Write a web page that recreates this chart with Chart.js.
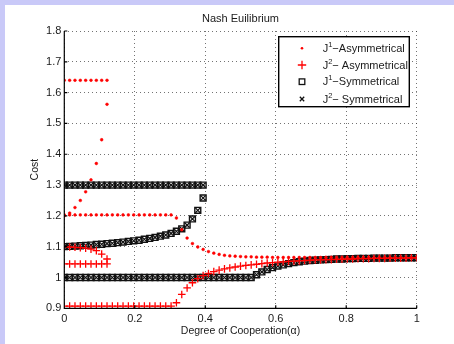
<!DOCTYPE html>
<html>
<head>
<meta charset="utf-8">
<script src="https://cdn.jsdelivr.net/npm/chart.js@4/dist/chart.umd.min.js"></script>
<style>
  html, body { margin: 0; padding: 0; background: #c9c9f8; width: 454px; height: 344px; overflow: hidden; }
  #wrap { position: absolute; left: 5px; top: 5px; width: 449px; height: 339px; background: #fff; }
</style>
</head>
<body>
<div id="wrap"><canvas id="nashChart" width="449" height="339"></canvas></div>
<script>
// grado de cooperacion: malla uniforme de 67 puntos entre 0 y 1
const alpha = Array.from({ length: 67 }, (_, i) => i / 66);

// J1 asimetrico (puntos rojos), tres ramas
const j1AsymHigh = [1.64, 1.64, 1.64, 1.64, 1.64, 1.64, 1.64, 1.64, 1.64];
const j1AsymRise = [1.200, 1.209, 1.227, 1.250, 1.278, 1.317, 1.370, 1.447, 1.562];
const j1AsymMain = [
  1.203, 1.203, 1.203, 1.203, 1.203, 1.203, 1.203, 1.203, 1.203, 1.203,
  1.203, 1.203, 1.203, 1.203, 1.203, 1.203, 1.203, 1.203, 1.203, 1.203,
  1.203, 1.193, 1.155, 1.128, 1.110, 1.099, 1.091, 1.084, 1.079, 1.075,
  1.072, 1.070, 1.069, 1.068, 1.067, 1.067, 1.066, 1.066, 1.066, 1.065,
  1.065, 1.065, 1.065, 1.065, 1.065, 1.065, 1.065, 1.065, 1.065, 1.065,
  1.065, 1.064, 1.064, 1.064, 1.064, 1.064, 1.064, 1.064, 1.064, 1.064,
  1.064, 1.064, 1.064, 1.064, 1.064, 1.064, 1.064
];

// J2 asimetrico (cruces rojas)
const j2AsymLow = [1.044, 1.044, 1.044, 1.044, 1.044, 1.044, 1.044, 1.044, 1.044];
const j2AsymFall = [1.100, 1.099, 1.098, 1.097, 1.095, 1.092, 1.087, 1.076, 1.060];
const j2AsymMain = [
  0.907, 0.907, 0.907, 0.907, 0.907, 0.907, 0.907, 0.907, 0.907, 0.907,
  0.907, 0.907, 0.907, 0.907, 0.907, 0.907, 0.907, 0.907, 0.907, 0.907,
  0.907, 0.918, 0.945, 0.966, 0.983, 0.996, 1.006, 1.013, 1.019, 1.024,
  1.028, 1.031, 1.034, 1.037, 1.039, 1.041, 1.043, 1.045, 1.047, 1.048,
  1.050, 1.051, 1.052, 1.053, 1.054, 1.055, 1.056, 1.057, 1.057, 1.058,
  1.058, 1.059, 1.059, 1.060, 1.060, 1.061, 1.061, 1.061, 1.062, 1.062,
  1.062, 1.063, 1.063, 1.063, 1.063, 1.064, 1.064
];

// caso simetrico: J1 y J2 coinciden (cuadrados y aspas negras)
const symHigh = [
  1.30, 1.30, 1.30, 1.30, 1.30, 1.30, 1.30, 1.30, 1.30, 1.30,
  1.30, 1.30, 1.30, 1.30, 1.30, 1.30, 1.30, 1.30, 1.30, 1.30,
  1.30, 1.30, 1.30, 1.30, 1.30, 1.30, 1.30
];
const symMid = [
  1.100, 1.101, 1.102, 1.103, 1.104, 1.105, 1.107, 1.108, 1.110, 1.111,
  1.113, 1.115, 1.117, 1.119, 1.121, 1.124, 1.127, 1.130, 1.134, 1.138,
  1.143, 1.150, 1.158, 1.170, 1.190, 1.218, 1.258
];
const symLow = [
  1.000, 1.000, 1.000, 1.000, 1.000, 1.000, 1.000, 1.000, 1.000, 1.000,
  1.000, 1.000, 1.000, 1.000, 1.000, 1.000, 1.000, 1.000, 1.000, 1.000,
  1.000, 1.000, 1.000, 1.000, 1.000, 1.000, 1.000, 1.000, 1.000, 1.000,
  1.000, 1.000, 1.000, 1.000, 1.000, 1.000, 1.009, 1.018, 1.026, 1.032,
  1.037, 1.041, 1.045, 1.048, 1.051, 1.053, 1.055, 1.056, 1.057, 1.058,
  1.059, 1.060, 1.060, 1.061, 1.061, 1.062, 1.062, 1.062, 1.063, 1.063,
  1.063, 1.063, 1.064, 1.064, 1.064, 1.064, 1.064
];

const xTicks = [0, 0.2, 0.4, 0.6, 0.8, 1];
const xTickLabels = ['0', '0.2', '0.4', '0.6', '0.8', '1'];
const yTicks = [0.9, 1.0, 1.1, 1.2, 1.3, 1.4, 1.5, 1.6, 1.7, 1.8];
const yTickLabels = ['0.9', '1', '1.1', '1.2', '1.3', '1.4', '1.5', '1.6', '1.7', '1.8'];

const legendItems = [
  { sup: '1', rest: '\u2212Asymmetrical', marker: 'dot' },
  { sup: '2', rest: '\u2212 Asymmetrical', marker: 'plus' },
  { sup: '1', rest: '\u2212Symmetrical', marker: 'square' },
  { sup: '2', rest: '\u2212 Symmetrical', marker: 'x' }
];

const FONT = '"Liberation Sans", Arial, Helvetica, sans-serif';
const RED = '#ff0000';
const INK = '#111';

function pts(arr) {
  return arr.map((y, i) => ({ x: alpha[i], y: y }));
}

const dotStyle = { pointStyle: 'circle', pointRadius: 1.4, backgroundColor: RED, borderColor: RED, borderWidth: 0.5 };
const plusStyle = { pointStyle: 'cross', pointRadius: 3.8, borderColor: RED, borderWidth: 1.3 };
const squareStyle = { pointStyle: 'rect', pointRadius: 4.2, backgroundColor: 'rgba(0,0,0,0)', borderColor: INK, borderWidth: 1.4 };
const xStyle = { pointStyle: 'crossRot', pointRadius: 3.4, borderColor: INK, borderWidth: 1.2 };

function ds(label, arr, style) {
  return Object.assign({ label: label, data: pts(arr), showLine: false, pointHoverRadius: 0 }, style);
}

const datasets = [
  ds('J1 asym', j1AsymHigh, dotStyle),
  ds('J1 asym', j1AsymRise, dotStyle),
  ds('J1 asym', j1AsymMain, dotStyle),
  ds('J2 asym', j2AsymLow, plusStyle),
  ds('J2 asym', j2AsymFall, plusStyle),
  ds('J2 asym', j2AsymMain, plusStyle),
  ds('J1 sym', symHigh, squareStyle),
  ds('J1 sym', symMid, squareStyle),
  ds('J1 sym', symLow, squareStyle),
  ds('J2 sym', symHigh, xStyle),
  ds('J2 sym', symMid, xStyle),
  ds('J2 sym', symLow, xStyle)
];

function drawMarker(ctx, kind, x, y) {
  ctx.save();
  if (kind === 'dot') {
    ctx.fillStyle = RED;
    ctx.beginPath(); ctx.arc(x, y, 1.3, 0, Math.PI * 2); ctx.fill();
  } else if (kind === 'plus') {
    ctx.strokeStyle = RED; ctx.lineWidth = 1.3;
    ctx.beginPath(); ctx.moveTo(x - 4.2, y); ctx.lineTo(x + 4.2, y); ctx.moveTo(x, y - 4.2); ctx.lineTo(x, y + 4.2); ctx.stroke();
  } else if (kind === 'square') {
    ctx.strokeStyle = INK; ctx.lineWidth = 1.3;
    ctx.strokeRect(x - 2.8, y - 2.8, 5.6, 5.6);
  } else {
    ctx.strokeStyle = INK; ctx.lineWidth = 1.3;
    ctx.beginPath(); ctx.moveTo(x - 2.2, y - 2.2); ctx.lineTo(x + 2.2, y + 2.2); ctx.moveTo(x + 2.2, y - 2.2); ctx.lineTo(x - 2.2, y + 2.2); ctx.stroke();
  }
  ctx.restore();
}

// textos, marcas de eje y leyenda dibujados a mano (estilo MATLAB)
const decorPlugin = {
  id: 'decor',
  afterDraw(chart) {
    const ctx = chart.ctx;
    const area = chart.chartArea;
    const xs = chart.scales.x, ys = chart.scales.y;
    ctx.save();

    // ejes solidos y marcas hacia dentro
    ctx.strokeStyle = '#000'; ctx.lineWidth = 1.2;
    ctx.beginPath();
    ctx.moveTo(area.left, area.top); ctx.lineTo(area.left, area.bottom); ctx.lineTo(area.right, area.bottom);
    yTicks.forEach(v => { const py = ys.getPixelForValue(v); ctx.moveTo(area.left, py); ctx.lineTo(area.left + 3, py); });
    xTicks.forEach(v => { const px = xs.getPixelForValue(v); ctx.moveTo(px, area.bottom); ctx.lineTo(px, area.bottom - 3); });
    ctx.stroke();

    ctx.fillStyle = '#1a1a1a';
    ctx.textAlign = 'center';
    ctx.textBaseline = 'middle';
    ctx.font = '11px ' + FONT;
    ctx.fillText('Nash Euilibrium', (area.left + area.right) / 2, 13.5);
    ctx.font = '10.5px ' + FONT;
    ctx.fillText('Degree of Cooperation(\u03b1)', (area.left + area.right) / 2, 326);
    ctx.save();
    ctx.translate(30, (area.top + area.bottom) / 2);
    ctx.rotate(-Math.PI / 2);
    ctx.fillText('Cost', 0, 0);
    ctx.restore();

    // leyenda
    const bx = 273.7, by = 31.7, bw = 130.6, bh = 70;
    ctx.fillStyle = '#fff';
    ctx.fillRect(bx, by, bw, bh);
    ctx.strokeStyle = '#000'; ctx.lineWidth = 1.4;
    ctx.strokeRect(bx, by, bw, bh);
    const rows = [43.3, 60, 76.7, 94];
    ctx.textAlign = 'left';
    legendItems.forEach((item, k) => {
      const y = rows[k];
      drawMarker(ctx, item.marker, 297, y);
      let x = 317.7;
      ctx.fillStyle = '#1a1a1a';
      ctx.font = '11px ' + FONT;
      ctx.fillText('J', x, y + 0.5);
      x += ctx.measureText('J').width;
      ctx.font = '7.5px ' + FONT;
      ctx.fillText(item.sup, x, y - 3.5);
      x += ctx.measureText(item.sup).width;
      ctx.font = '11px ' + FONT;
      ctx.fillText(item.rest, x, y + 0.5);
    });
    ctx.restore();
  }
};

new Chart(document.getElementById('nashChart'), {
  type: 'scatter',
  data: { datasets: datasets },
  options: {
    responsive: false,
    animation: false,
    devicePixelRatio: 1,
    layout: { padding: { left: 0, top: 26, right: 37.3, bottom: 0 } },
    plugins: { legend: { display: false }, title: { display: false }, tooltip: { enabled: false } },
    scales: {
      x: {
        type: 'linear', min: 0, max: 1,
        afterFit: s => { s.height = 35.7; },
        afterBuildTicks: s => { s.ticks = xTicks.map(v => ({ value: v })); },
        ticks: {
          callback: (v) => xTickLabels[xTicks.indexOf(v)],
          color: '#1a1a1a', font: { size: 11, family: FONT }, padding: 4, maxRotation: 0
        },
        grid: { color: 'rgba(0,0,0,0.55)', drawTicks: false, lineWidth: 1 },
        border: { display: false, dash: [1, 3] }
      },
      y: {
        type: 'linear', min: 0.9, max: 1.8,
        afterFit: s => { s.width = 59.3; },
        afterBuildTicks: s => { s.ticks = yTicks.map(v => ({ value: v })); },
        ticks: {
          callback: (v) => yTickLabels[yTicks.findIndex(t => Math.abs(t - v) < 1e-6)],
          color: '#1a1a1a', font: { size: 11, family: FONT }, padding: 3
        },
        grid: { color: 'rgba(0,0,0,0.55)', drawTicks: false, lineWidth: 1 },
        border: { display: false, dash: [1, 3] }
      }
    }
  },
  plugins: [decorPlugin]
});
</script>
</body>
</html>
